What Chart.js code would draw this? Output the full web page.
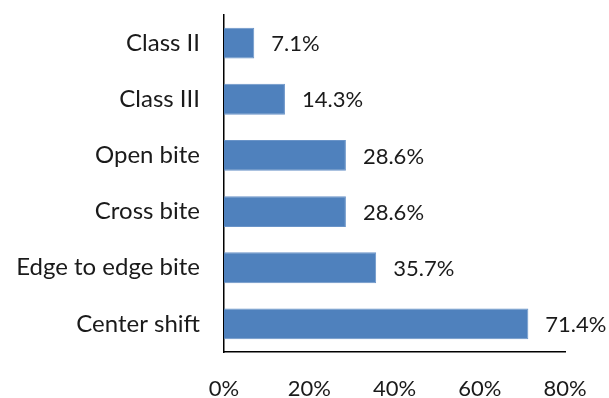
<!DOCTYPE html>
<html>
<head>
<meta charset="utf-8">
<script src="https://cdn.jsdelivr.net/npm/chart.js@4/dist/chart.umd.min.js"></script>
<style>
  html, body { margin: 0; padding: 0; background: #fff; }
  #wrap { width: 609px; height: 398px; }
</style>
</head>
<body>
<div id="wrap"><canvas id="c" width="609" height="398"></canvas></div>
<script>
// ── Occlusion findings, share of cases ───────────────────────────────────────
const categories = ['Class II', 'Class III', 'Open bite', 'Cross bite', 'Edge to edge bite', 'Center shift'];
const percents = [7.1, 14.3, 28.6, 28.6, 35.7, 71.4];
const xTicks = [0, 20, 40, 60, 80];

const FONT = 'Lato, Carlito, Calibri, sans-serif';

// value label to the right of each bar
const barLabels = {
    id: 'barLabels',
    afterDatasetsDraw(chart) {
        const ctx = chart.ctx;
        const meta = chart.getDatasetMeta(0);
        ctx.save();
        ctx.font = '22px ' + FONT;
        ctx.fillStyle = '#1a1a1a';
        ctx.textAlign = 'left';
        ctx.textBaseline = 'middle';
        meta.data.forEach((bar, i) => {
            ctx.fillText(percents[i].toFixed(1) + '%', bar.x + 17, bar.y + 1);
        });
        ctx.restore();
    }
};

new Chart(document.getElementById('c'), {
    type: 'bar',
    data: {
        labels: categories,
        datasets: [{
            data: percents,
            backgroundColor: '#4F81BD',
            borderColor: '#6a94c8',
            borderWidth: 1,
            barPercentage: 0.55,
            categoryPercentage: 1
        }]
    },
    options: {
        indexAxis: 'y',
        responsive: false,
        animation: false,
        layout: { padding: { top: 15, right: 44, left: 0, bottom: 0 } },
        plugins: { legend: { display: false }, tooltip: { enabled: false } },
        scales: {
            x: {
                min: xTicks[0],
                max: xTicks[xTicks.length - 1],
                afterBuildTicks: s => { s.ticks = xTicks.map(v => ({ value: v })); },
                afterFit: s => { s.height = 46; s.paddingLeft = 0; s.paddingRight = 0; },
                grid: { display: false, drawTicks: false },
                border: { display: true, color: '#000', width: 1.5 },
                ticks: {
                    padding: 24,
                    color: '#1a1a1a',
                    font: { family: FONT, size: 22 },
                    callback: v => v + '%'
                }
            },
            y: {
                afterFit: s => { s.width = 224; s.paddingTop = 0; s.paddingBottom = 0; },
                grid: { display: false, drawTicks: false },
                border: { display: true, color: '#000', width: 1.5 },
                ticks: {
                    padding: 24,
                    color: '#1a1a1a',
                    font: { family: FONT, size: 24 }
                }
            }
        }
    },
    plugins: [barLabels]
});
</script>
</body>
</html>
